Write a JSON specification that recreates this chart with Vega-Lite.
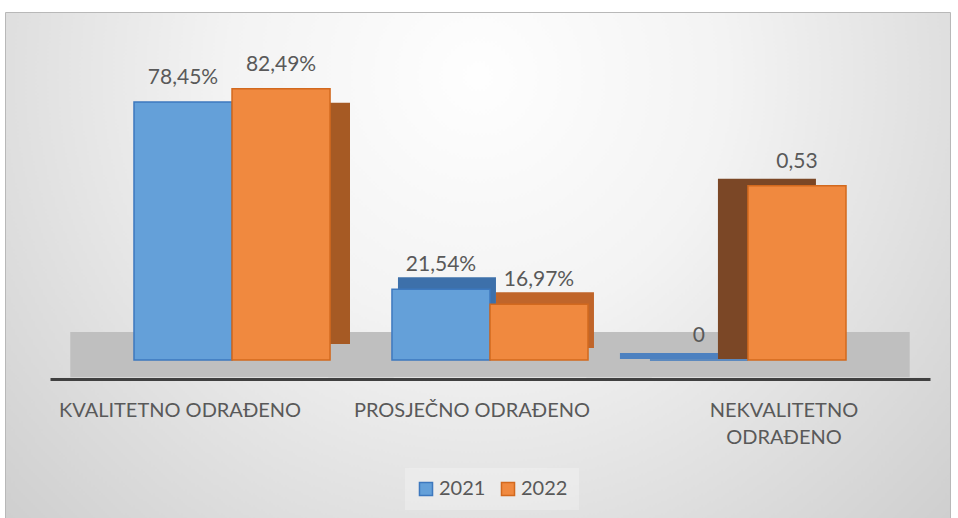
{
  "$schema": "https://vega.github.io/schema/vega-lite/v6.json",
  "width": 945,
  "height": 506,
  "autosize": {"type": "none"},
  "padding": {"left": 5, "top": 12, "right": 8, "bottom": 0},
  "background": "#ffffff",
  "view": {
    "fill": {"gradient": "radial", "x1": 0.5, "y1": 0.3, "x2": 0.5, "y2": 0.3, "r1": 0, "r2": 0.75,
      "stops": [{"offset": 0, "color": "#fefefe"}, {"offset": 0.35, "color": "#f3f3f3"}, {"offset": 1, "color": "#c9c9c9"}]},
    "stroke": "#b8b8b8"
  },
  "config": {"font": "Lato"},
  "data": {"values": [
    {"cat": "KVALITETNO ODRAĐENO", "year": "2021", "value": 78.45, "label": "78,45%"},
    {"cat": "KVALITETNO ODRAĐENO", "year": "2022", "value": 82.49, "label": "82,49%"},
    {"cat": "PROSJEČNO ODRAĐENO", "year": "2021", "value": 21.54, "label": "21,54%"},
    {"cat": "PROSJEČNO ODRAĐENO", "year": "2022", "value": 16.97, "label": "16,97%"},
    {"cat": "NEKVALITETNO ODRAĐENO", "year": "2021", "value": 0, "label": "0"},
    {"cat": "NEKVALITETNO ODRAĐENO", "year": "2022", "value": 53, "label": "0,53"}
  ]},
  "encoding": {
    "x": {
      "field": "cat", "type": "nominal",
      "sort": ["KVALITETNO ODRAĐENO", "PROSJEČNO ODRAĐENO", "NEKVALITETNO ODRAĐENO"],
      "scale": {"range": [45, 925], "paddingInner": 0.24, "paddingOuter": 0.3256},
      "axis": {
        "title": null, "orient": "bottom", "offset": -139, "zindex": 1,
        "domainColor": "#404040", "domainWidth": 3, "ticks": false,
        "labelFont": "Lato", "labelFontSize": 20, "labelColor": "#595959",
        "labelPadding": 21, "labelAngle": 0, "labelLimit": 0, "labelLineHeight": 27,
        "labelExpr": "datum.value == 'NEKVALITETNO ODRAĐENO' ? ['NEKVALITETNO', 'ODRAĐENO'] : datum.value",
        "labelOffset": {
          "condition": [
            {"test": "datum.value == 'KVALITETNO ODRAĐENO'", "value": -52},
            {"test": "datum.value == 'PROSJEČNO ODRAĐENO'", "value": -18}
          ],
          "value": 36
        }
      }
    }
  },
  "layer": [
    {
      "transform": [{"filter": "datum.year == '2021'"}],
      "mark": {"type": "bar", "width": {"band": 1.65}, "color": "#bfbfbf"},
      "encoding": {
        "y": {"datum": 8.5, "type": "quantitative", "scale": {"domain": [-48, 105.8], "nice": false, "zero": false}, "axis": null},
        "y2": {"datum": -5.2}
      }
    },
    {
      "transform": [{"filter": "datum.cat == 'KVALITETNO ODRAĐENO'"}],
      "mark": {"type": "bar", "yOffset": 14, "y2Offset": -16},
      "encoding": {
        "xOffset": {"field": "year", "type": "nominal", "scale": {"range": [20, 216]}},
        "y": {"field": "value", "type": "quantitative", "scale": {"domain": [-48, 105.8], "nice": false, "zero": false}, "axis": null},
        "y2": {"datum": 0},
        "color": {"condition": {"test": "datum.year == '2021'", "value": "#3b6ea5"}, "value": "#a65a24"}
      }
    },
    {
      "transform": [{"filter": "datum.cat == 'PROSJEČNO ODRAĐENO'"}],
      "mark": {"type": "bar", "yOffset": -12, "y2Offset": -12},
      "encoding": {
        "xOffset": {"field": "year", "type": "nominal", "scale": {"range": [6, 202]}},
        "y": {"field": "value", "type": "quantitative", "scale": {"domain": [-48, 105.8], "nice": false, "zero": false}, "axis": null},
        "y2": {"datum": 0},
        "color": {"condition": {"test": "datum.year == '2021'", "value": "#3d70aa"}, "value": "#c0652a"}
      }
    },
    {
      "transform": [{"filter": "datum.cat == 'NEKVALITETNO ODRAĐENO'"}],
      "mark": {"type": "bar", "yOffset": -7, "y2Offset": -1},
      "encoding": {
        "xOffset": {"field": "year", "type": "nominal", "scale": {"range": [-30, 166]}},
        "y": {"field": "value", "type": "quantitative", "scale": {"domain": [-48, 105.8], "nice": false, "zero": false}, "axis": null},
        "y2": {"datum": 0},
        "color": {"condition": {"test": "datum.year == '2021'", "value": "#4d81c0"}, "value": "#7b4726"}
      }
    },
    {
      "mark": {"type": "bar", "strokeWidth": 1.5, "fillOpacity": 1},
      "encoding": {
        "xOffset": {"field": "year", "type": "nominal"},
        "y": {"field": "value", "type": "quantitative", "scale": {"domain": [-48, 105.8], "nice": false, "zero": false}, "axis": null},
        "y2": {"datum": 0},
        "color": {
          "field": "year", "type": "nominal",
          "scale": {"domain": ["2021", "2022"], "range": ["#64a0d9", "#f0893f"]},
          "legend": {
            "orient": "none", "legendX": 400, "legendY": 456, "direction": "horizontal", "title": null,
            "labelFont": "Lato", "labelFontSize": 20, "labelColor": "#595959",
            "symbolType": "square", "symbolSize": 170, "symbolStrokeWidth": 1.5,
            "columnPadding": 12, "padding": 11, "labelOffset": 3,
            "fillColor": "rgba(255,255,255,0.25)"
          }
        },
        "stroke": {
          "field": "year", "type": "nominal",
          "scale": {"domain": ["2021", "2022"], "range": ["#3d78be", "#d2691e"]}
        }
      }
    },
    {
      "mark": {"type": "text", "baseline": "bottom", "dy": -14, "fontSize": 21, "font": "Lato", "color": "#595959"},
      "encoding": {
        "xOffset": {"field": "year", "type": "nominal"},
        "y": {"field": "value", "type": "quantitative", "scale": {"domain": [-48, 105.8], "nice": false, "zero": false}, "axis": null},
        "text": {"field": "label", "type": "nominal"}
      }
    }
  ],
  "resolve": {"scale": {"xOffset": "independent"}}
}
